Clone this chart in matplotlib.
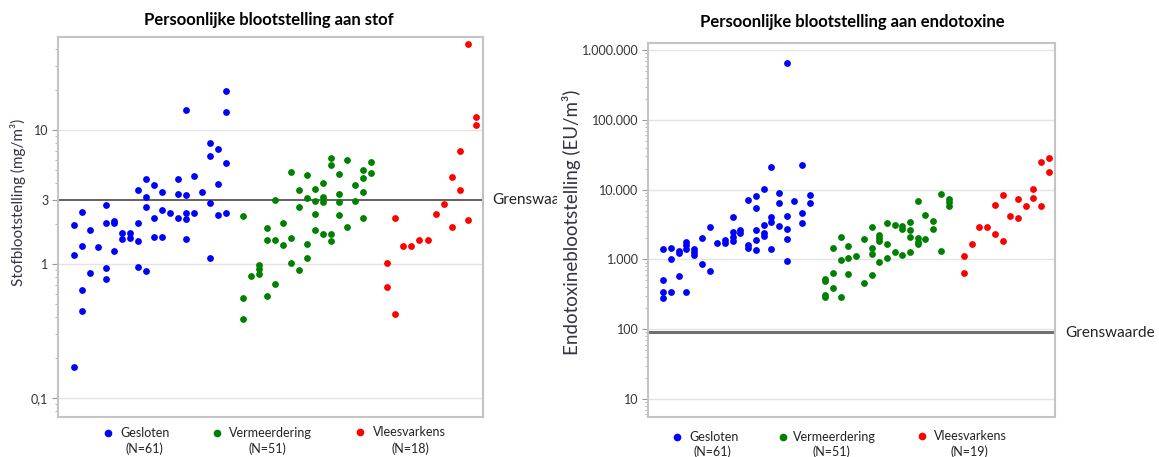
import matplotlib
matplotlib.use("Agg")
import matplotlib.pyplot as plt
import matplotlib.ticker as mticker
from matplotlib.lines import Line2D
from matplotlib.transforms import Bbox, TransformedBbox

plt.rcParams["font.family"] = ["Lato", "DejaVu Sans"]

W, H = 1159, 457

groups = ["Gesloten", "Vermeerdering", "Vleesvarkens"]
colors = ["#0000ff", "#008000", "#ff0000"]
stof_n = [61, 51, 18]
endo_n = [61, 51, 19]

# stof (mg/m3): volgnummer op de x-as en meetwaarde
stof_gesloten_x = [19, 14, 19, 17, 18, 17, 19, 9, 13, 15, 8, 10, 11, 13, 14, 16, 18,
                   9, 4, 1, 17, 9, 11, 12, 14, 15, 18, 19, 10, 13, 14, 0, 4, 5, 5, 8,
                   2, 6, 7, 6, 7, 8, 10, 11, 14, 1, 3, 0, 5, 17, 2, 4, 4, 8, 9, 1, 1, 0]
stof_gesloten_y = [19.5, 14.2, 13.7, 7.96, 7.21, 6.43, 5.64, 4.31, 4.31, 4.51, 3.55,
                   3.91, 3.45, 3.33, 3.27, 3.46, 3.97, 3.16, 2.74, 2.44, 2.87, 2.65,
                   2.53, 2.41, 2.41, 2.41, 2.33, 2.41, 2.19, 2.19, 2.16, 1.95, 2.01,
                   2.08, 2.01, 2.03, 1.80, 1.71, 1.69, 1.54, 1.56, 1.48, 1.59, 1.59,
                   1.54, 1.37, 1.33, 1.17, 1.24, 1.10, 0.861, 0.929, 0.769, 0.945,
                   0.887, 0.637, 0.446, 0.170]

stof_vermeerdering_x = [32, 32, 34, 37, 36, 37, 27, 29, 33, 31, 35, 36, 28, 30, 33, 36,
                        29, 31, 31, 30, 33, 35, 25, 28, 30, 33, 36, 21, 26, 24, 30, 34,
                        31, 32, 24, 25, 27, 26, 29, 32, 27, 29, 28, 23, 23, 23, 22, 25,
                        24, 21, 21]
stof_vermeerdering_y = [6.15, 5.48, 5.94, 5.74, 5.06, 4.75, 4.88, 4.59, 4.67, 4.02,
                        3.87, 4.36, 3.55, 3.61, 3.31, 3.43, 3.12, 3.18, 2.90, 2.94,
                        2.92, 2.97, 3.00, 2.65, 2.37, 2.33, 2.22, 2.29, 2.02, 1.86,
                        1.80, 1.87, 1.67, 1.67, 1.51, 1.51, 1.56, 1.39, 1.42, 1.47,
                        1.02, 1.10, 0.902, 0.978, 0.923, 0.847, 0.818, 0.709, 0.577,
                        0.555, 0.389]

stof_vleesvarkens_x = [49, 50, 50, 48, 47, 48, 46, 45, 40, 49, 47, 43, 44, 41, 42, 39, 39, 40]
stof_vleesvarkens_y = [43.8, 12.4, 10.8, 6.97, 4.43, 3.55, 2.80, 2.37, 2.22, 2.12,
                       1.87, 1.52, 1.52, 1.37, 1.37, 1.01, 0.677, 0.426]

# endotoxine (EU/m3)
endo_gesloten_x = [14, 18, 13, 11, 12, 12, 15, 15, 17, 19, 19, 18, 18, 9, 6, 14, 14, 16,
                   16, 15, 13, 12, 10, 10, 9, 9, 9, 13, 13, 12, 16, 8, 8, 7, 5, 11, 11,
                   12, 14, 16, 4, 4, 4, 3, 3, 3, 2, 2, 1, 0, 1, 5, 6, 2, 0, 0, 0, 1, 3, 16]
endo_gesloten_y = [20850, 22290, 10300, 7100, 8090, 5450, 8850, 6370, 6930, 8370,
                   6370, 4580, 3360, 4010, 2880, 4090, 3470, 4190, 2700, 3010,
                   3110, 2640, 2640, 2410, 2490, 2110, 1850, 2370, 2160, 1900,
                   1940, 1900, 1700, 1700, 2010, 1610, 1440, 1360, 1400, 940,
                   1400, 1290, 1150, 1780, 1590, 1400, 1310, 1220, 1470, 1400,
                   1020, 850, 690, 580, 510, 345, 277, 345, 345, 645000]

endo_vermeerdering_x = [22, 23, 24, 23, 24, 25, 22, 24, 21, 21, 22, 21, 21, 23, 26, 26,
                        27, 27, 27, 27, 28, 28, 28, 28, 29, 29, 29, 30, 30, 31, 31, 31,
                        32, 32, 32, 32, 33, 33, 33, 34, 35, 35, 36, 33, 34, 36, 37, 37, 37]
endo_vermeerdering_y = [1440, 2110, 1570, 980, 1060, 1120, 632, 612, 529, 486,
                        393, 309, 292, 292, 1940, 455, 2880, 1440, 1190, 598,
                        2240, 2010, 1850, 908, 1660, 1040, 3360, 3110, 1260, 3010,
                        2700, 1170, 3430, 2640, 2110, 1260, 2010, 1790, 1660, 1940,
                        3510, 2700, 1330, 6930, 4280, 8650, 7330, 6580, 5880]

endo_vleesvarkens_x = [39, 39, 40, 41, 42, 43, 44, 43, 44, 45, 46, 46, 47, 48, 48, 49, 49, 50, 50]
endo_vleesvarkens_y = [1130, 645, 1660, 2940, 2940, 2310, 1850, 6010, 8370, 4190,
                       3880, 7330, 5820, 10100, 7580, 5820, 24850, 28380, 17870]

stof_ticks = [0.1, 1, 3, 10]
stof_ticklabels = ["0,1", "1", "3", "10"]
endo_ticks = [10, 100, 1000, 10000, 100000, 1000000]
endo_ticklabels = ["10", "100", "1.000", "10.000", "100.000", "1.000.000"]

stof_grens = 3
endo_grens = 90


def px(x, y):
    # pixel positie -> figuur coordinaten
    return x / W, 1 - y / H


def draw_panel(ax, xs, ys, ylim, xlim, ticks, ticklabels, grens, grens_lw, grens_color):
    for x, y, c in zip(xs, ys, colors):
        ax.scatter(x, y, s=24, color=c, linewidths=0, zorder=3)
    ax.set_yscale("log")
    ax.set_ylim(*ylim)
    ax.set_xlim(*xlim)
    ax.set_xticks([])
    ax.yaxis.set_major_locator(mticker.FixedLocator(ticks))
    ax.yaxis.set_major_formatter(mticker.FixedFormatter(ticklabels))
    ax.yaxis.set_minor_locator(mticker.LogLocator(base=10, subs=range(2, 10)))
    ax.yaxis.set_minor_formatter(mticker.NullFormatter())
    ax.tick_params(axis="y", which="major", length=4, width=0.8, color="#999999",
                   labelsize=9, labelcolor="#333333", pad=3)
    ax.tick_params(axis="y", which="minor", length=2.5, width=0.6, color="#aaaaaa")
    for t in ticks:
        if t != grens and t != 3:
            ax.axhline(t, color="#e4e4e4", lw=1, zorder=1)
    ax.axhline(grens, color=grens_color, lw=grens_lw, zorder=2)
    for sp in ax.spines.values():
        sp.set_color("#c4c4c4")
        sp.set_linewidth(1.5)


fig = plt.figure(figsize=(W / 100, H / 100), dpi=100)

ax1 = fig.add_axes([58 / W, 1 - 417 / H, 425 / W, 380 / H])
draw_panel(ax1,
           [stof_gesloten_x, stof_vermeerdering_x, stof_vleesvarkens_x],
           [stof_gesloten_y, stof_vermeerdering_y, stof_vleesvarkens_y],
           (0.072, 49.4), (-1.95, 50.9), stof_ticks, stof_ticklabels,
           stof_grens, 1.3, "#555555")
ax1.set_ylabel("Stofblootstelling (mg/m³)", fontsize=11, color="#333344")
ax1.yaxis.set_label_coords(-0.076, 0.566)

ax2 = fig.add_axes([648.3 / W, 1 - 417.3 / H, 406.7 / W, 374 / H])
draw_panel(ax2,
           [endo_gesloten_x, endo_vermeerdering_x, endo_vleesvarkens_x],
           [endo_gesloten_y, endo_vermeerdering_y, endo_vleesvarkens_y],
           (5.47, 1.25e6), (-1.95, 50.8), endo_ticks, endo_ticklabels,
           endo_grens, 2.2, "#707070")
ax2.set_ylabel("Endotoxineblootstelling (EU/m³)", fontsize=13.5, color="#333344")
ax2.yaxis.set_label_coords(-0.166, 0.521)

# titels
fig.text(*px(269, 20), "Persoonlijke blootstelling aan stof", ha="center", va="center",
         fontsize=12, fontweight="bold")
fig.text(*px(852, 22), "Persoonlijke blootstelling aan endotoxine", ha="center",
         va="center", fontsize=12, fontweight="bold")

# grenswaarde labels (links afgesneden door het rechter paneel, zoals in het origineel)
t = fig.text(*px(492, 200), "Grenswaarde", ha="left", va="center", fontsize=11,
             color="#222222")
t.set_clip_on(True)
t.set_clip_box(TransformedBbox(Bbox([[0, 0], [557 / W, 1]]), fig.transFigure))
fig.text(*px(1065, 332.7), "Grenswaarde", ha="left", va="center", fontsize=11,
         color="#222222")

# legenda onder de panelen
legend_left = [(107.7, 433.3, 120, 144.7), (217.3, 433.3, 228.7, 267.7), (360, 432.3, 373.3, 410)]
legend_right = [(677.3, 437.3, 689, 712.5), (783.3, 437.3, 793.3, 831.8), (921.7, 436, 934.3, 969.2)]
for pos, ns, ny in [(legend_left, stof_n, 449), (legend_right, endo_n, 451.5)]:
    for (mx, my, tx, nx), g, c, n in zip(pos, groups, colors, ns):
        fig.add_artist(Line2D([mx / W], [1 - my / H], marker="o", markersize=4.5,
                              color=c, linestyle="none", transform=fig.transFigure))
        fig.text(*px(tx, my), g, ha="left", va="center", fontsize=9, color="#222222")
        fig.text(*px(nx, ny), f"(N={n})", ha="center", va="center", fontsize=9,
                 color="#222222")

fig.savefig("out.png", dpi=100)
